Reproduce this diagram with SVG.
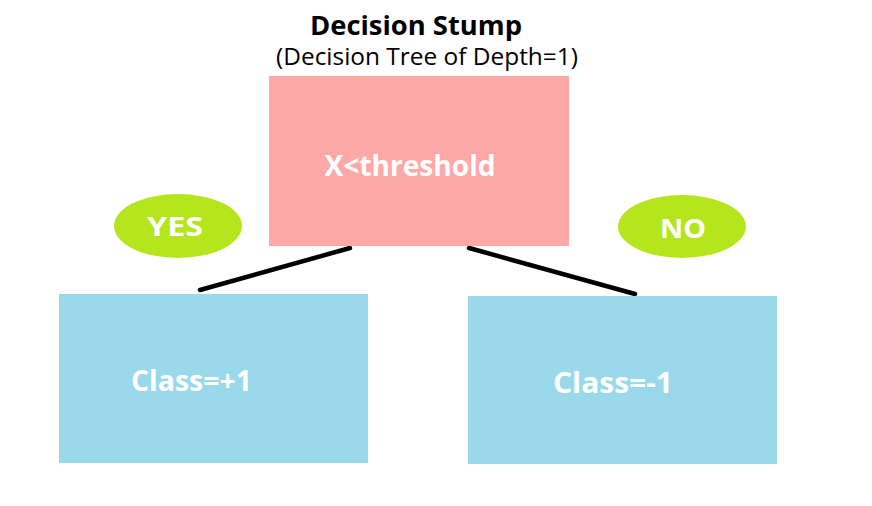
<svg xmlns="http://www.w3.org/2000/svg" width="872" height="506" viewBox="0 0 872 506">
<style>
.t{font-family:"Open Sans","DejaVu Sans",sans-serif;font-weight:bold}
.w{fill:#ffffff}
.leaf{fill:#99D9EA}
.lbl{fill:#B5E61D}
.edge{stroke:#000;stroke-width:4.5;stroke-linecap:round;fill:none}
</style>
<rect width="872" height="506" fill="#ffffff"/>
<g id="title">
<text class="t" x="416" y="35" font-size="27" text-anchor="middle" textLength="212" lengthAdjust="spacingAndGlyphs">Decision Stump</text>
<text x="427" y="65" font-family="Open Sans, DejaVu Sans, sans-serif" font-size="23" text-anchor="middle" textLength="302" lengthAdjust="spacingAndGlyphs">(Decision Tree of Depth=1)</text>
</g>
<g id="connectors">
<line class="edge" x1="200" y1="290" x2="350" y2="248"/>
<line class="edge" x1="469" y1="248" x2="635" y2="294"/>
</g>
<g id="root">
<rect x="269" y="76" width="300" height="170" fill="#FFA8A8"/>
<text class="t w" x="410" y="176" font-size="28" text-anchor="middle" textLength="171" lengthAdjust="spacingAndGlyphs">X&lt;threshold</text>
</g>
<g id="yes">
<ellipse class="lbl" cx="178" cy="226" rx="64" ry="32"/>
<text class="t w" x="175" y="236" font-size="27" text-anchor="middle" textLength="56" lengthAdjust="spacingAndGlyphs">YES</text>
</g>
<g id="no">
<ellipse class="lbl" cx="682" cy="226.5" rx="64" ry="31.5"/>
<text class="t w" x="683" y="238" font-size="27" text-anchor="middle" textLength="46" lengthAdjust="spacingAndGlyphs">NO</text>
</g>
<g id="leaf-yes">
<rect class="leaf" x="59" y="294" width="309" height="169"/>
<text class="t w" x="191.5" y="391" font-size="28" text-anchor="middle" textLength="121" lengthAdjust="spacingAndGlyphs">Class=+1</text>
</g>
<g id="leaf-no">
<rect class="leaf" x="468" y="296" width="309" height="168"/>
<text class="t w" x="613" y="393" font-size="28" text-anchor="middle" textLength="120" lengthAdjust="spacingAndGlyphs">Class=-1</text>
</g>
</svg>
